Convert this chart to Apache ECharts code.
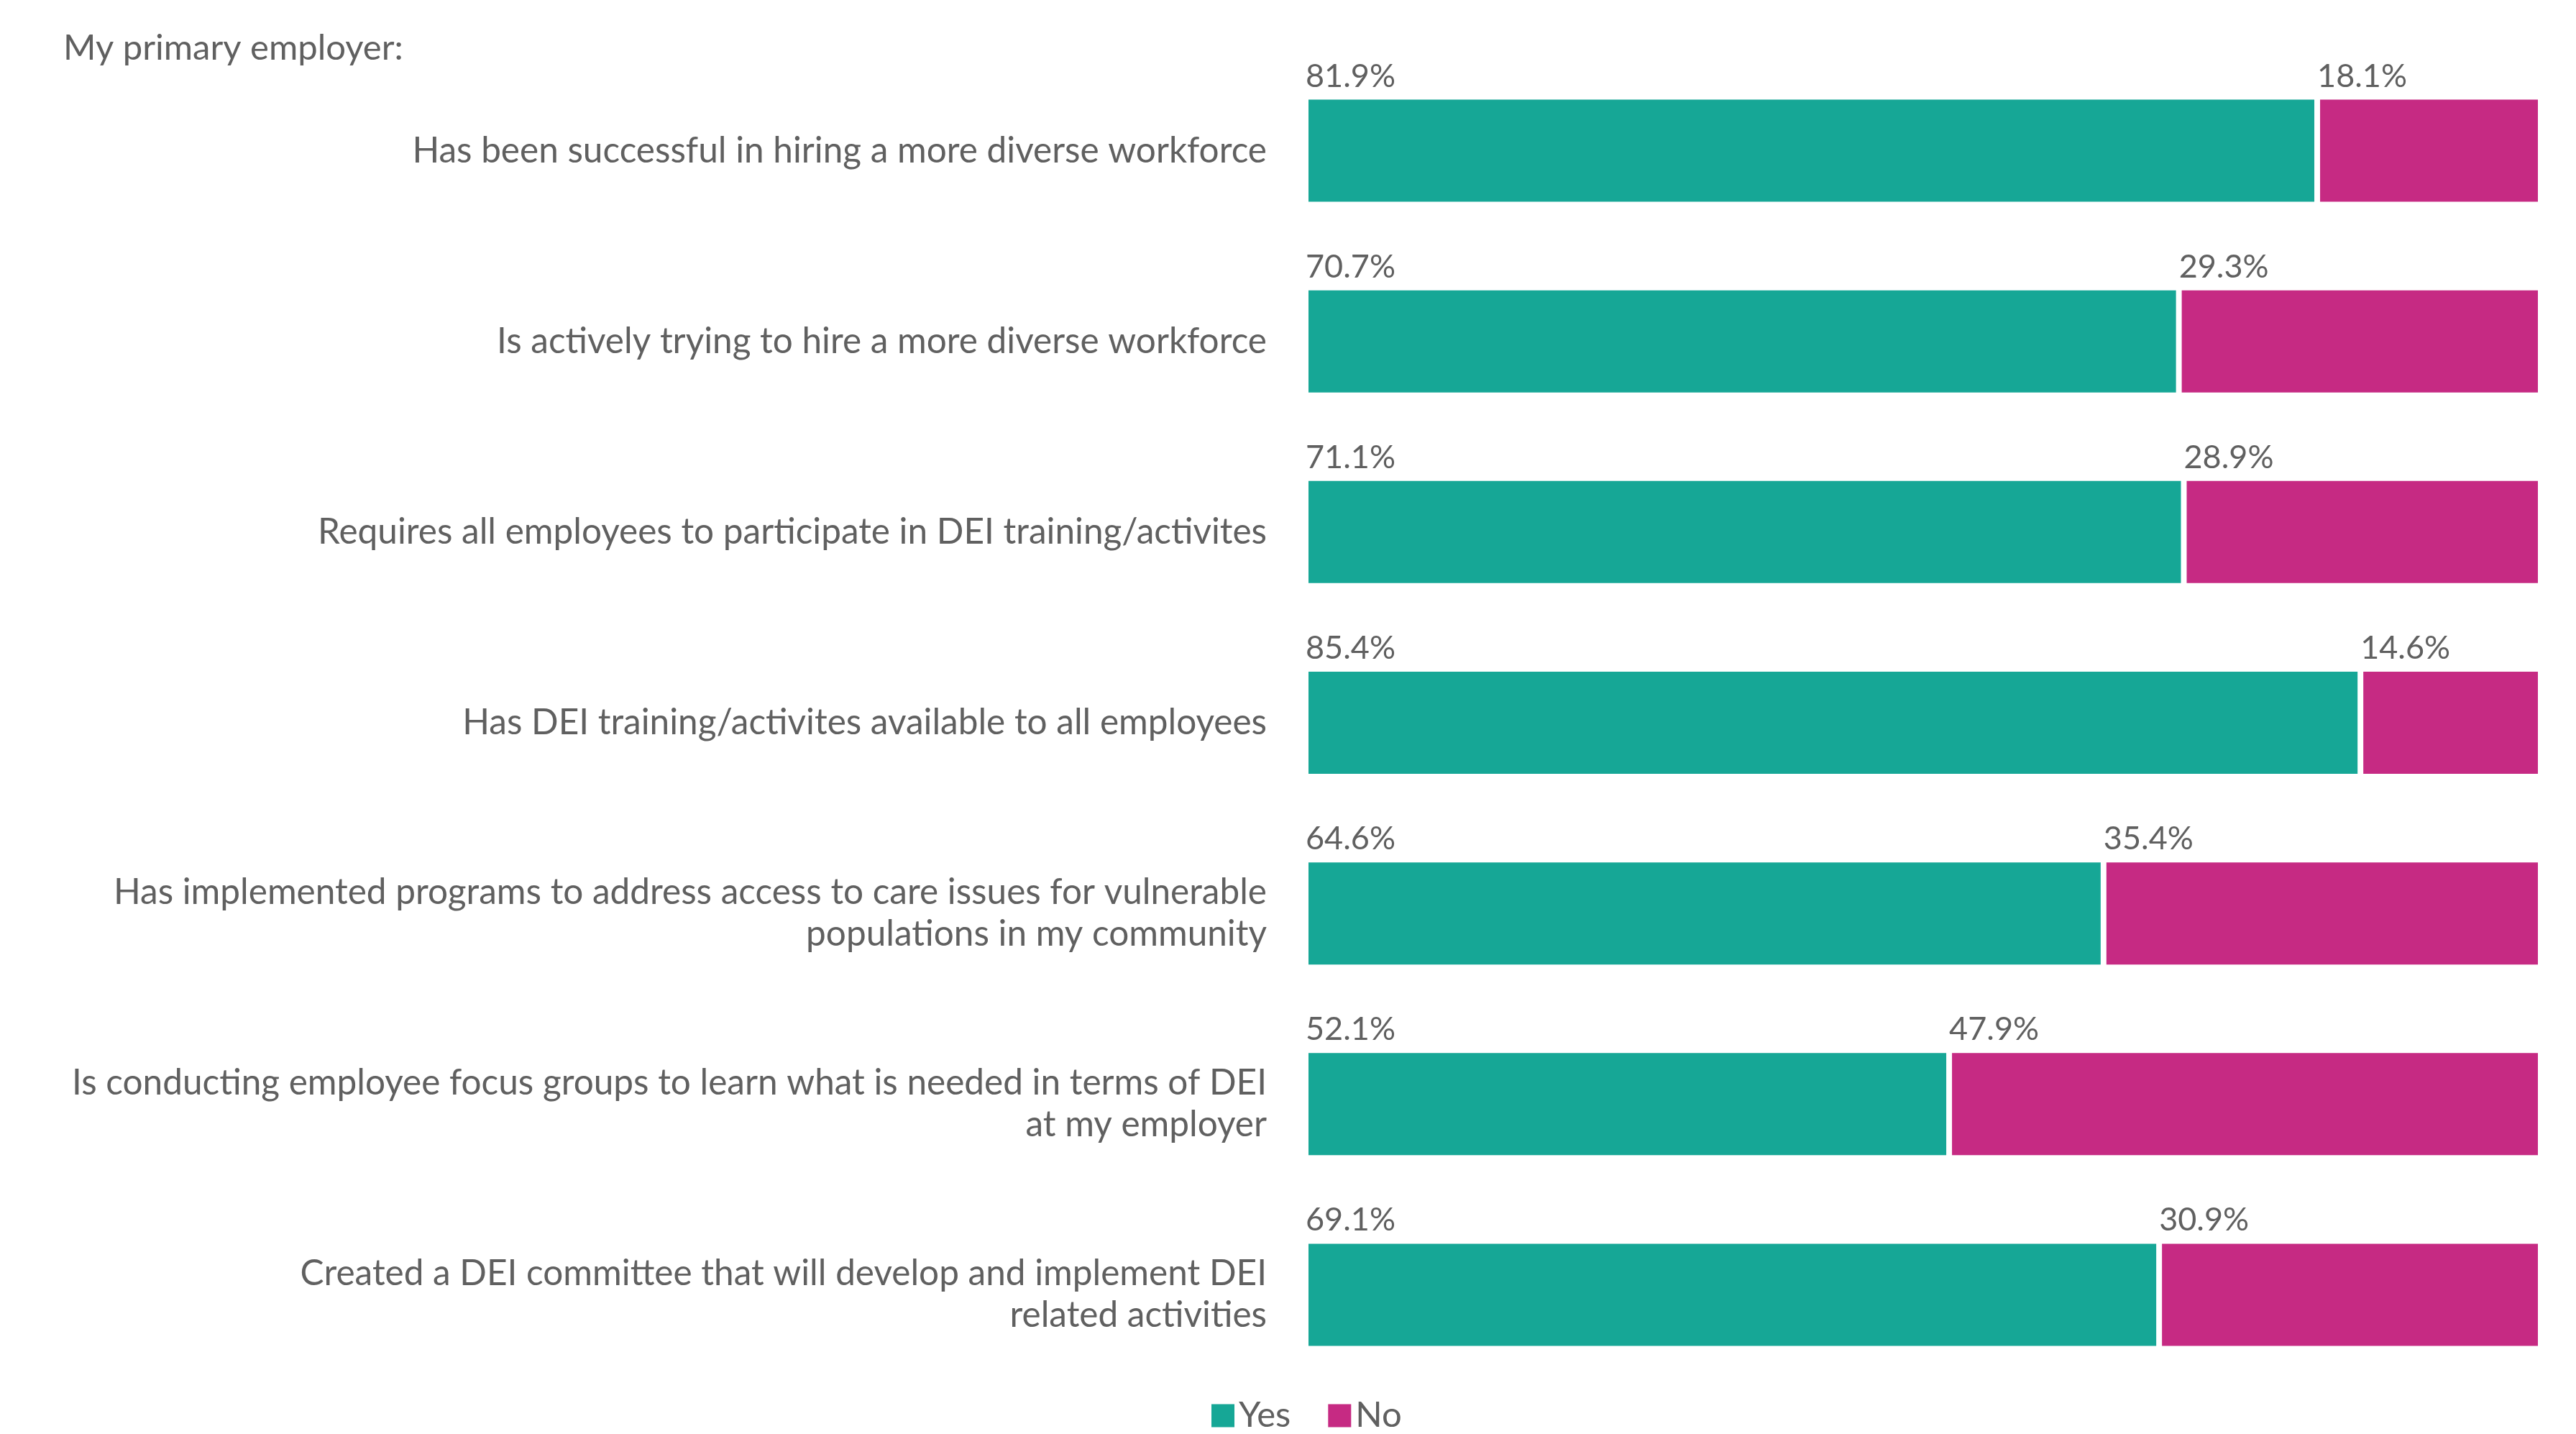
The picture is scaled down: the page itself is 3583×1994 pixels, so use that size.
<!DOCTYPE html>
<html>
<head>
<meta charset="utf-8">
<script src="https://cdn.jsdelivr.net/npm/echarts@6/dist/echarts.min.js"></script>
<style>
html,body{margin:0;padding:0;background:#fff;}
#chart{width:3583px;height:1994px;}
</style>
</head>
<body>
<div id="chart"></div>
<script>
const categories = [
  "Has been successful in hiring a more diverse workforce",
  "Is actively trying to hire a more diverse workforce",
  "Requires all employees to participate in DEI training/activites",
  "Has DEI training/activites available to all employees",
  "Has implemented programs to address access to care issues for vulnerable\npopulations in my community",
  "Is conducting employee focus groups to learn what is needed in terms of DEI\nat my employer",
  "Created a DEI committee that will develop and implement DEI\nrelated activities"
];
const yesValues = [81.9, 70.7, 71.1, 85.4, 64.6, 52.1, 69.1];
const noValues = [18.1, 29.3, 28.9, 14.6, 35.4, 47.9, 30.9];
const seriesNames = ["Yes", "No"];
const titleText = "My primary employer:";

const FONT = "Lato";
const TEXT = "#606060";
const colors = ["#16a796", "#c62a83"];

const chart = echarts.init(document.getElementById('chart'));
const labelCfg = {
  show: true,
  position: [0, -6],
  align: 'left',
  verticalAlign: 'bottom',
  color: TEXT,
  fontFamily: FONT,
  fontSize: 45,
  formatter: p => p.value.toFixed(1) + '%'
};
chart.setOption({
  backgroundColor: '#fff',
  animation: false,
  title: {
    text: titleText,
    left: 83,
    top: 38,
    textStyle: {color: TEXT, fontFamily: FONT, fontSize: 49, fontWeight: 'normal'}
  },
  legend: {
    data: seriesNames,
    top: 1939,
    left: 1678,
    itemWidth: 34,
    itemHeight: 34,
    itemGap: 50,
    icon: 'rect',
    textStyle: {color: TEXT, fontFamily: FONT, fontSize: 49, padding: [0,0,0,0]}
  },
  grid: {left: 1816, right: 49, top: 77, height: 1856, containLabel: false},
  xAxis: {
    type: 'value', min: 0, max: 100, show: false
  },
  yAxis: {
    type: 'category',
    data: categories,
    inverse: true,
    axisLine: {show: false},
    axisTick: {show: false},
    axisLabel: {
      margin: 54,
      color: TEXT,
      fontFamily: FONT,
      fontSize: 49.5,
      lineHeight: 58,
      align: 'right'
    }
  },
  series: [
    {
      name: seriesNames[0], type: 'bar', stack: 'total', data: yesValues,
      barWidth: 150,
      itemStyle: {color: colors[0], borderColor: '#fff', borderWidth: 4},
      label: labelCfg
    },
    {
      name: seriesNames[1], type: 'bar', stack: 'total', data: noValues,
      barWidth: 150,
      itemStyle: {color: colors[1], borderColor: '#fff', borderWidth: 4},
      label: labelCfg
    }
  ]
});
</script>
</body>
</html>
